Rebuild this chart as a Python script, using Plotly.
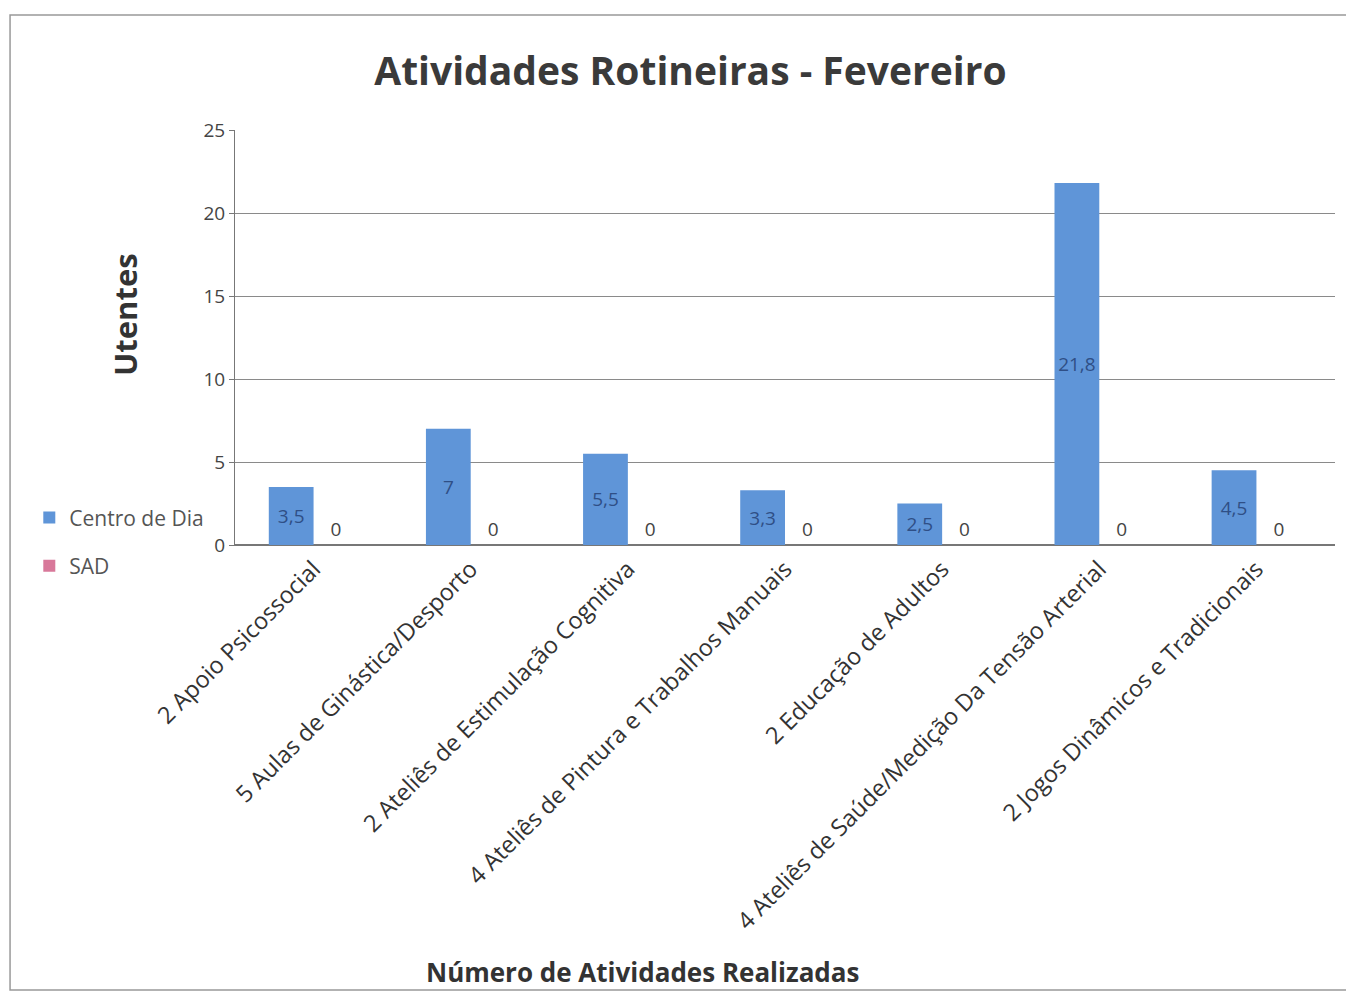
import plotly.graph_objects as go

categories = [
    "2 Apoio Psicossocial",
    "5 Aulas de Ginástica/Desporto",
    "2 Ateliês de Estimulação Cognitiva",
    "4 Ateliês de Pintura e Trabalhos Manuais",
    "2 Educação de Adultos",
    "4 Ateliês de Saúde/Medição Da Tensão Arterial",
    "2 Jogos Dinâmicos e Tradicionais",
]
centro_de_dia = [3.5, 7, 5.5, 3.3, 2.5, 21.8, 4.5]
sad = [0, 0, 0, 0, 0, 0, 0]

def fmt(v):
    return f"{v:g}".replace(".", ",")

FONT = "Open Sans"

fig = go.Figure()
fig.add_trace(go.Bar(
    name="Centro de Dia", x=categories, y=centro_de_dia, legendgroup="a",
    marker=dict(color="#5f95d8", line=dict(width=0)),
    text=[fmt(v) for v in centro_de_dia], textposition="inside",
    insidetextanchor="middle", textangle=0,
    textfont=dict(family=FONT, size=19, color="#2f4f86"),
))
fig.add_trace(go.Bar(
    name="SAD", x=categories, y=sad, legendgroup="b",
    marker=dict(color="#d8789a", line=dict(width=0)),
    text=[fmt(v) for v in sad], textposition="outside", textangle=0,
    textfont=dict(family=FONT, size=19, color="#444444"),
    cliponaxis=False,
))

fig.update_layout(
    width=1354, height=996,
    margin=dict(l=227, r=27, t=122, b=459, autoexpand=False),
    paper_bgcolor="white", plot_bgcolor="white",
    barmode="group", bargap=0.43, bargroupgap=0,
    uniformtext=dict(minsize=10, mode="show"),
    title=dict(text="<b>Atividades Rotineiras - Fevereiro</b>",
               x=0.504, xanchor="center", y=0.936, yanchor="middle",
               font=dict(family=FONT, size=39, color="#3a3a3a")),
    font=dict(family=FONT, color="#444444"),
    legend=dict(x=-0.187, xanchor="left", y=0.115, yanchor="top",
                font=dict(family=FONT, size=21, color="#555555"),
                bgcolor="rgba(0,0,0,0)", tracegroupgap=18,
                traceorder="grouped", itemwidth=30),
    showlegend=True,
)
fig.update_xaxes(
    tickangle=-45, tickfont=dict(family=FONT, size=23.5, color="#333333"),
    showline=True, linecolor="#777777", linewidth=1,
)
fig.update_yaxes(
    range=[0, 25], dtick=5, tickfont=dict(family=FONT, size=19, color="#444444"),
    showgrid=True, gridcolor="#8a8a8a", gridwidth=1,
    showline=True, linecolor="#777777", linewidth=1,
    zeroline=True, zerolinecolor="#777777",
    ticks="outside", ticklen=5, tickcolor="#777777",
)
# axis titles placed as annotations (offset like the original)
fig.add_annotation(text="<b>Número de Atividades Realizadas</b>", xref="paper", yref="paper",
                   x=0.37, y=-1.029, xanchor="center", yanchor="middle", showarrow=False,
                   font=dict(family=FONT, size=26, color="#333333"))
fig.add_annotation(text="<b>Utentes</b>", xref="paper", yref="paper", textangle=-90,
                   x=-0.1, y=0.554, xanchor="center", yanchor="middle", showarrow=False,
                   font=dict(family=FONT, size=31, color="#333333"))
fig.add_shape(type="rect", xref="paper", yref="paper",
              x0=-0.2045, x1=1.03, y0=-1.072, y1=1.277,
              line=dict(color="#999999", width=1.5))
fig.write_html("out.html")
